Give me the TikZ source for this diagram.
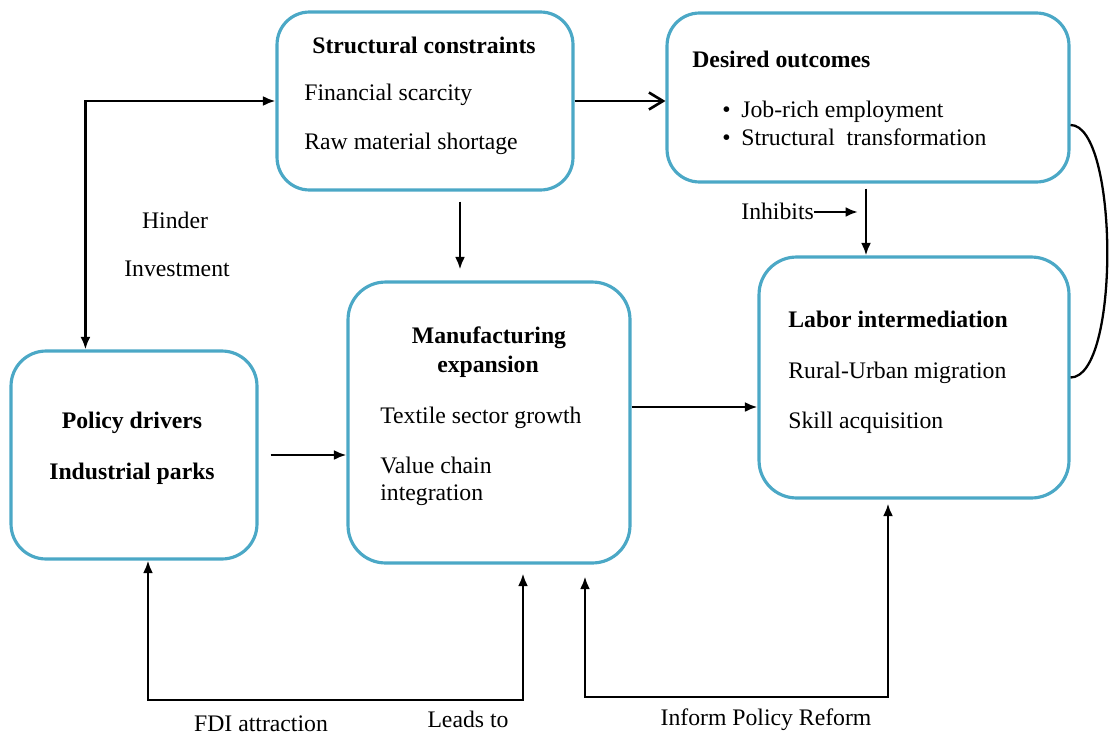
\documentclass[tikz,border=0pt]{standalone}
\usepackage{fontspec}
\setmainfont{Liberation Serif}
\usetikzlibrary{arrows.meta, positioning, calc}
\definecolor{boxblue}{RGB}{75,168,198}

\begin{document}
\begin{tikzpicture}[
    x=0.02cm, y=-0.02cm,
    font=\fontsize{13.5}{16}\selectfont,
    block/.style={
        rectangle, rounded corners=0.65cm, draw=boxblue, line width=1.8pt,
        inner sep=0pt
    },
    title/.style={font=\fontsize{13.5}{16}\selectfont\bfseries, inner sep=0pt},
    item/.style={inner sep=0pt, anchor=base west},
    lbl/.style={inner sep=0pt, anchor=base},
    link/.style={-{Latex[length=0.25cm,width=0.2cm]}, line width=1.5pt},
    bothlink/.style={{Latex[length=0.25cm,width=0.2cm]}-{Latex[length=0.25cm,width=0.2cm]}, line width=1.5pt},
    openlink/.style={-{Straight Barb[length=0.28cm,width=0.34cm]}, line width=1.5pt},
]
\useasboundingbox (0,0) rectangle (1111,737);

% Boxes
\node[block, minimum width=5.92cm, minimum height=3.56cm] (struct) at (425,101) {};
\node[block, minimum width=8.04cm, minimum height=3.38cm] (outcome) at (868,97.5) {};
\node[block, minimum width=6.2cm, minimum height=4.82cm, rounded corners=0.75cm] (labor) at (914,377.5) {};
\node[block, minimum width=5.64cm, minimum height=5.62cm, rounded corners=0.75cm] (manuf) at (489,422.5) {};
\node[block, minimum width=4.92cm, minimum height=4.16cm, rounded corners=0.7cm] (policy) at (134,455) {};

% Box texts
\node[title, anchor=base] (structT) at (424,53) {Structural constraints};
\node[item] (fin) at (304,100) {Financial scarcity};
\node[item] (raw) at (304,149) {Raw material shortage};

\node[title, anchor=base west] (outcomeT) at (692,67) {Desired outcomes};
\node[item] (job) at (722,117) {\textbullet\hspace{0.45em}Job-rich employment};
\node[item] (trans) at (722,145) {\textbullet\hspace{0.45em}Structural\ \ transformation};

\node[title, anchor=base] (policyT) at (132,428) {Policy drivers};
\node[title, anchor=base] (parks) at (132,479) {Industrial parks};

\node[title, anchor=base] (manufT) at (489,343) {Manufacturing};
\node[title, anchor=base] (manufT2) at (488,372) {expansion};
\node[item] (textile) at (380,423) {Textile sector growth};
\node[item] (value) at (380,473) {Value chain};
\node[item] (integ) at (380,500) {integration};

\node[title, anchor=base west] (laborT) at (788,327) {Labor intermediation};
\node[item] (rural) at (788,378) {Rural-Urban migration};
\node[item] (skill) at (788,428) {Skill acquisition};

% Labels
\node[lbl] (hinder) at (175,228) {Hinder};
\node[lbl] (invest) at (177,276) {Investment};
\node[item] (inh) at (741,219) {Inhibits};
\node[lbl] (fdi) at (261,731) {FDI attraction};
\node[lbl] (leads) at (468,727) {Leads to};
\node[lbl] (inform) at (766,725) {Inform Policy Reform};

% Helper coordinates
\coordinate (smx) at (460,0);
\coordinate (olx) at (866,0);
\coordinate (inhend) at (858,212);
\coordinate (mlo) at ([yshift=0.31cm]manuf.east);
\coordinate (pb) at ([xshift=0.28cm]policy.south);
\coordinate (mb) at ([xshift=0.68cm,yshift=-0.18cm]manuf.south);
\coordinate (mb2) at ([xshift=1.92cm,yshift=-0.24cm]manuf.south);
\coordinate (lb) at ([xshift=-0.52cm,yshift=-0.08cm]labor.south);
\coordinate (loopa) at (0,700);
\coordinate (loopb) at (0,697);

% Connectors
\draw[bothlink] ([xshift=1.52cm]policy.north west) |- (struct.west);
\draw[link, shorten <=0.2cm, shorten >=0.22cm] (struct.south -| smx) -- (manuf.north -| smx);
\draw[openlink] (struct.east) -- (struct.east -| outcome.west);
\draw[link, shorten <=0.1cm] (outcome.south -| olx) -- (labor.north -| olx);
\draw[link] (inh.east |- inhend) -- (inhend);
\draw[line width=1.3pt] ([yshift=-0.55cm]outcome.east) .. controls +(48,0) and +(50,0) .. (labor.east);
\draw[link, shorten <=0.24cm] (policy.east) -- (policy.east -| manuf.west);
\draw[link] (mlo) -- (mlo -| labor.west);

% Feedback loops
\draw[bothlink] (pb) -- (pb |- loopa) -| (mb);
\draw[bothlink] (mb2) -- (mb2 |- loopb) -| (lb);

\end{tikzpicture}
\end{document}
